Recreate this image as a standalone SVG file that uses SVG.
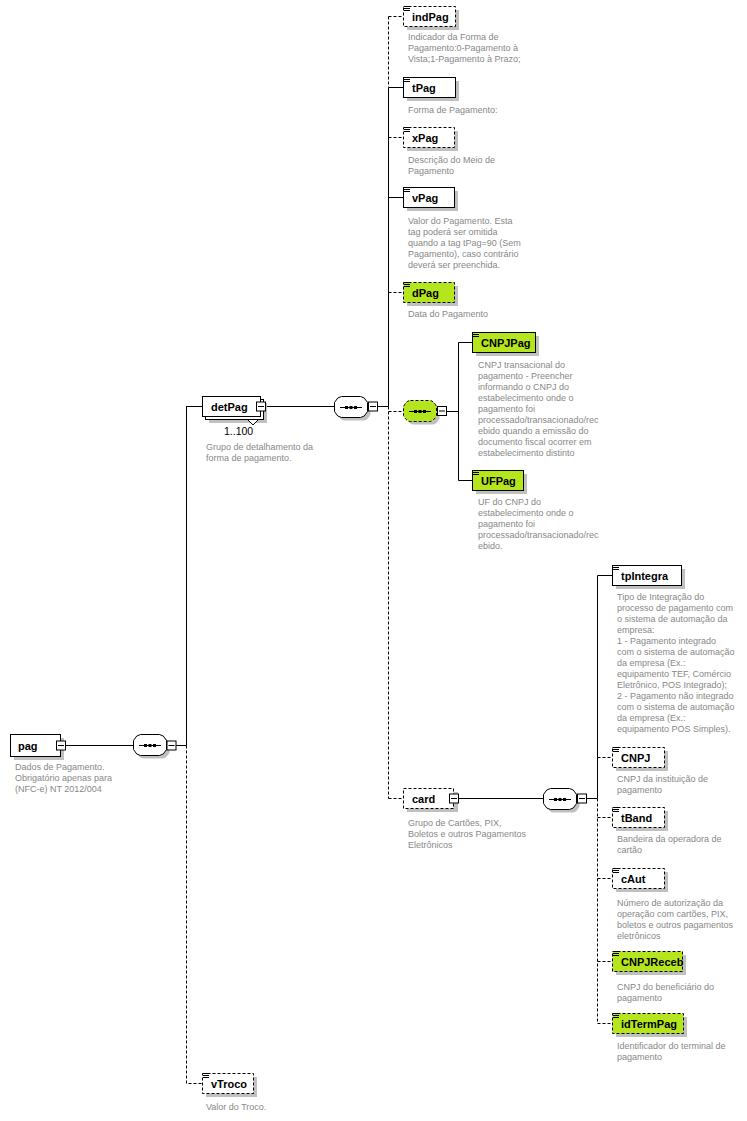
<svg xmlns="http://www.w3.org/2000/svg" xmlns:xlink="http://www.w3.org/1999/xlink" width="747" height="1121" viewBox="0 0 747 1121">
<style>
.bg{fill:#fff}
.sh{fill:#c0c0c0}
.box{fill:#fff;stroke:#000;stroke-width:1}
.grn{fill:#b5e61d}
.opt{stroke-dasharray:3,2}
.lbl{font-family:"Liberation Sans",Arial,sans-serif;font-weight:bold;font-size:11px;fill:#000}
.occ{font-family:"Liberation Sans",Arial,sans-serif;font-size:10.5px;fill:#000}
.desc{font-family:"Liberation Sans",Arial,sans-serif;font-size:9px;fill:#888}
.ln{stroke:#000;stroke-width:1;fill:none}
.dl{stroke-dasharray:3,2}
</style>
<defs>
<path id="ico" d="M1 0.5h6M1 2.5h6M1 4.5h6" stroke="#000" stroke-width="1" fill="none"/>
<g id="minus"><rect x="0.5" y="0.5" width="9" height="9" fill="#fff" stroke="#000"/><path d="M2 5h6" stroke="#000"/></g>
<path id="seqshape" d="M7.5 0.5H26.5Q30.5 0.5 33.5 6.5V15.5Q30.5 21.5 26.5 21.5H7.5Q3.5 21.5 0.5 15.5V6.5Q3.5 0.5 7.5 0.5Z"/>
<g id="seqmark"><path d="M6 11.5h22" stroke="#000"/><rect x="11" y="10" width="3" height="3" fill="#000"/><rect x="15.5" y="10" width="3" height="3" fill="#000"/><rect x="20" y="10" width="3" height="3" fill="#000"/></g>
</defs>
<rect class="bg" x="0" y="0" width="747" height="1121"/>

<g id="connectors">
<path class="ln" d="M66 745.5H133M176 745.5H186.5"/>
<path class="ln" d="M186.5 406V745.5"/>
<path class="ln dl" d="M186.5 745.5V1083.5H202"/>
<path class="ln" d="M186.5 406.5H202"/>
<path class="ln" d="M265 406.5H334M378 406.5H388.5"/>
<path class="ln dl" d="M388.5 16.5V87.5"/>
<path class="ln" d="M388.5 87.5V406.5"/>
<path class="ln dl" d="M388.5 406.5V798.5"/>
<path class="ln dl" d="M388.5 16.5H403"/>
<path class="ln" d="M388.5 87.5H403"/>
<path class="ln dl" d="M388.5 137.5H403"/>
<path class="ln" d="M388.5 197.5H403"/>
<path class="ln dl" d="M388.5 292.5H403"/>
<path class="ln dl" d="M388.5 411.5H403"/>
<path class="ln dl" d="M388.5 798.5H403"/>
<path class="ln" d="M447 411.5H458.5M458.5 342.5V480.5M458.5 342.5H472M458.5 480.5H472"/>
<path class="ln" d="M458 798.5H543M587 798.5H597.5"/>
<path class="ln" d="M597.5 575.5V798.5M597.5 575.5H612"/>
<path class="ln dl" d="M597.5 798.5V1023.5"/>
<path class="ln dl" d="M597.5 757.5H612M597.5 817.5H612M597.5 878.5H612M597.5 961.5H612M597.5 1023.5H612"/>
</g>

<g id="pag">
<g transform="translate(10,734)">
<rect class="sh" x="4" y="4" width="50" height="22"/>
<rect class="box" x="0.5" y="0.5" width="50" height="22"/>
<text class="lbl" x="8" y="16">pag</text>
<use xlink:href="#minus" x="46" y="6.5"/>
</g>
<text class="desc"><tspan x="15" y="770">Dados de Pagamento.</tspan><tspan x="15" y="781">Obrigatório apenas para</tspan><tspan x="15" y="792">(NFC-e) NT 2012/004</tspan></text>
</g>

<g id="seq-pag" transform="translate(133,734)">
<use xlink:href="#seqshape" x="3" y="3" class="sh"/>
<use xlink:href="#seqshape" class="box"/>
<use xlink:href="#seqmark"/>
<use xlink:href="#minus" x="33.5" y="6.5"/>
</g>

<g id="detPag">
<g transform="translate(202,396)">
<rect class="sh" x="7" y="7" width="58" height="20"/>
<rect class="box" x="3.5" y="3.5" width="58" height="20"/>
<path d="M46 24L51 29L56 24" fill="#fff" stroke="#000"/>
<rect class="box" x="0.5" y="0.5" width="58" height="20"/>
<text class="lbl" x="9" y="15">detPag</text>
<use xlink:href="#minus" x="54" y="5.5"/>
</g>
<text class="occ" x="224" y="435">1..100</text>
<text class="desc"><tspan x="206" y="450">Grupo de detalhamento da</tspan><tspan x="206" y="461">forma de pagamento.</tspan></text>
</g>

<g id="seq-detPag" transform="translate(334,396)">
<use xlink:href="#seqshape" x="3" y="3" class="sh"/>
<use xlink:href="#seqshape" class="box"/>
<use xlink:href="#seqmark"/>
<use xlink:href="#minus" x="34" y="5.5"/>
</g>

<g id="indPag">
<g transform="translate(403,6)">
<rect class="sh" x="4" y="4" width="52" height="20"/>
<rect class="box opt" x="0.5" y="0.5" width="52" height="20"/>
<use xlink:href="#ico"/>
<text class="lbl" x="9" y="15">indPag</text>
</g>
<text class="desc"><tspan x="408" y="40">Indicador da Forma de</tspan><tspan x="408" y="51">Pagamento:0-Pagamento à</tspan><tspan x="408" y="62">Vista;1-Pagamento à Prazo;</tspan></text>
</g>

<g id="tPag">
<g transform="translate(403,77)">
<rect class="sh" x="4" y="4" width="52" height="20"/>
<rect class="box" x="0.5" y="0.5" width="52" height="20"/>
<use xlink:href="#ico"/>
<text class="lbl" x="9" y="15">tPag</text>
</g>
<text class="desc" x="408" y="113">Forma de Pagamento:</text>
</g>

<g id="xPag">
<g transform="translate(403,127)">
<rect class="sh" x="4" y="4" width="51" height="20"/>
<rect class="box opt" x="0.5" y="0.5" width="51" height="20"/>
<use xlink:href="#ico"/>
<text class="lbl" x="9" y="15">xPag</text>
</g>
<text class="desc"><tspan x="408" y="163">Descrição do Meio de</tspan><tspan x="408" y="174">Pagamento</tspan></text>
</g>

<g id="vPag">
<g transform="translate(403,187)">
<rect class="sh" x="4" y="4" width="51" height="20"/>
<rect class="box" x="0.5" y="0.5" width="51" height="20"/>
<use xlink:href="#ico"/>
<text class="lbl" x="9" y="15">vPag</text>
</g>
<text class="desc"><tspan x="408" y="224">Valor do Pagamento. Esta</tspan><tspan x="408" y="235">tag poderá ser omitida</tspan><tspan x="408" y="246">quando a tag tPag=90 (Sem</tspan><tspan x="408" y="257">Pagamento), caso contrário</tspan><tspan x="408" y="268">deverá ser preenchida.</tspan></text>
</g>

<g id="dPag">
<g transform="translate(403,282)">
<rect class="sh" x="4" y="4" width="51" height="20"/>
<rect class="box grn opt" x="0.5" y="0.5" width="51" height="20"/>
<use xlink:href="#ico"/>
<text class="lbl" x="9" y="15">dPag</text>
</g>
<text class="desc" x="408" y="317">Data do Pagamento</text>
</g>

<g id="seq-green" transform="translate(403,400)">
<use xlink:href="#seqshape" x="3" y="3" class="sh"/>
<use xlink:href="#seqshape" class="box grn opt"/>
<use xlink:href="#seqmark"/>
<use xlink:href="#minus" x="34" y="6"/>
</g>

<g id="CNPJPag">
<g transform="translate(472,332)">
<rect class="sh" x="4" y="4" width="63" height="20"/>
<rect class="box grn" x="0.5" y="0.5" width="63" height="20"/>
<use xlink:href="#ico"/>
<text class="lbl" x="9" y="15">CNPJPag</text>
</g>
<text class="desc"><tspan x="478" y="368">CNPJ transacional do</tspan><tspan x="478" y="379">pagamento - Preencher</tspan><tspan x="478" y="390">informando o CNPJ do</tspan><tspan x="478" y="401">estabelecimento onde o</tspan><tspan x="478" y="412">pagamento foi</tspan><tspan x="478" y="423">processado/transacionado/rec</tspan><tspan x="478" y="434">ebido quando a emissão do</tspan><tspan x="478" y="445">documento fiscal ocorrer em</tspan><tspan x="478" y="456">estabelecimento distinto</tspan></text>
</g>

<g id="UFPag">
<g transform="translate(472,470)">
<rect class="sh" x="4" y="4" width="51" height="20"/>
<rect class="box grn" x="0.5" y="0.5" width="51" height="20"/>
<use xlink:href="#ico"/>
<text class="lbl" x="9" y="15">UFPag</text>
</g>
<text class="desc"><tspan x="478" y="505">UF do CNPJ do</tspan><tspan x="478" y="516">estabelecimento onde o</tspan><tspan x="478" y="527">pagamento foi</tspan><tspan x="478" y="538">processado/transacionado/rec</tspan><tspan x="478" y="549">ebido.</tspan></text>
</g>

<g id="card">
<g transform="translate(403,788)">
<rect class="sh" x="4" y="4" width="51" height="20"/>
<rect class="box opt" x="0.5" y="0.5" width="50" height="20"/>
<text class="lbl" x="9" y="15">card</text>
<use xlink:href="#minus" x="46" y="5.5"/>
</g>
<text class="desc"><tspan x="408" y="826">Grupo de Cartões, PIX,</tspan><tspan x="408" y="837">Boletos e outros Pagamentos</tspan><tspan x="408" y="848">Eletrônicos</tspan></text>
</g>

<g id="seq-card" transform="translate(543,788)">
<use xlink:href="#seqshape" x="3" y="3" class="sh"/>
<use xlink:href="#seqshape" class="box"/>
<use xlink:href="#seqmark"/>
<use xlink:href="#minus" x="34" y="5.5"/>
</g>

<g id="tpIntegra">
<g transform="translate(612,565)">
<rect class="sh" x="4" y="4" width="69" height="20"/>
<rect class="box" x="0.5" y="0.5" width="69" height="20"/>
<use xlink:href="#ico"/>
<text class="lbl" x="9" y="15">tpIntegra</text>
</g>
<text class="desc"><tspan x="617" y="600">Tipo de Integração do</tspan><tspan x="617" y="611">processo de pagamento com</tspan><tspan x="617" y="622">o sistema de automação da</tspan><tspan x="617" y="633">empresa:</tspan><tspan x="617" y="644">1 - Pagamento integrado</tspan><tspan x="617" y="655">com o sistema de automação</tspan><tspan x="617" y="666">da empresa (Ex.:</tspan><tspan x="617" y="677">equipamento TEF, Comércio</tspan><tspan x="617" y="688">Eletrônico, POS Integrado);</tspan><tspan x="617" y="699">2 - Pagamento não integrado</tspan><tspan x="617" y="710">com o sistema de automação</tspan><tspan x="617" y="721">da empresa (Ex.:</tspan><tspan x="617" y="732">equipamento POS Simples).</tspan></text>
</g>

<g id="CNPJ">
<g transform="translate(612,747)">
<rect class="sh" x="4" y="4" width="52" height="20"/>
<rect class="box opt" x="0.5" y="0.5" width="52" height="20"/>
<use xlink:href="#ico"/>
<text class="lbl" x="9" y="15">CNPJ</text>
</g>
<text class="desc"><tspan x="617" y="782">CNPJ da instituição de</tspan><tspan x="617" y="793">pagamento</tspan></text>
</g>

<g id="tBand">
<g transform="translate(612,807)">
<rect class="sh" x="4" y="4" width="52" height="20"/>
<rect class="box opt" x="0.5" y="0.5" width="52" height="20"/>
<use xlink:href="#ico"/>
<text class="lbl" x="9" y="15">tBand</text>
</g>
<text class="desc"><tspan x="617" y="842">Bandeira da operadora de</tspan><tspan x="617" y="853">cartão</tspan></text>
</g>

<g id="cAut">
<g transform="translate(612,868)">
<rect class="sh" x="4" y="4" width="52" height="20"/>
<rect class="box opt" x="0.5" y="0.5" width="52" height="20"/>
<use xlink:href="#ico"/>
<text class="lbl" x="9" y="15">cAut</text>
</g>
<text class="desc"><tspan x="617" y="906">Número de autorização da</tspan><tspan x="617" y="917">operação com cartões, PIX,</tspan><tspan x="617" y="928">boletos e outros pagamentos</tspan><tspan x="617" y="939">eletrônicos</tspan></text>
</g>

<g id="CNPJReceb">
<g transform="translate(612,951)">
<rect class="sh" x="4" y="4" width="70" height="20"/>
<rect class="box grn opt" x="0.5" y="0.5" width="70" height="20"/>
<use xlink:href="#ico"/>
<text class="lbl" x="9" y="15">CNPJReceb</text>
</g>
<text class="desc"><tspan x="617" y="990">CNPJ do beneficiário do</tspan><tspan x="617" y="1001">pagamento</tspan></text>
</g>

<g id="idTermPag">
<g transform="translate(612,1013)">
<rect class="sh" x="4" y="4" width="71" height="20"/>
<rect class="box grn opt" x="0.5" y="0.5" width="71" height="20"/>
<use xlink:href="#ico"/>
<text class="lbl" x="9" y="15">idTermPag</text>
</g>
<text class="desc"><tspan x="617" y="1049">Identificador do terminal de</tspan><tspan x="617" y="1060">pagamento</tspan></text>
</g>

<g id="vTroco">
<g transform="translate(202,1073)">
<rect class="sh" x="4" y="4" width="51" height="20"/>
<rect class="box opt" x="0.5" y="0.5" width="51" height="20"/>
<use xlink:href="#ico"/>
<text class="lbl" x="9" y="15">vTroco</text>
</g>
<text class="desc" x="206" y="1110">Valor do Troco.</text>
</g>
</svg>
